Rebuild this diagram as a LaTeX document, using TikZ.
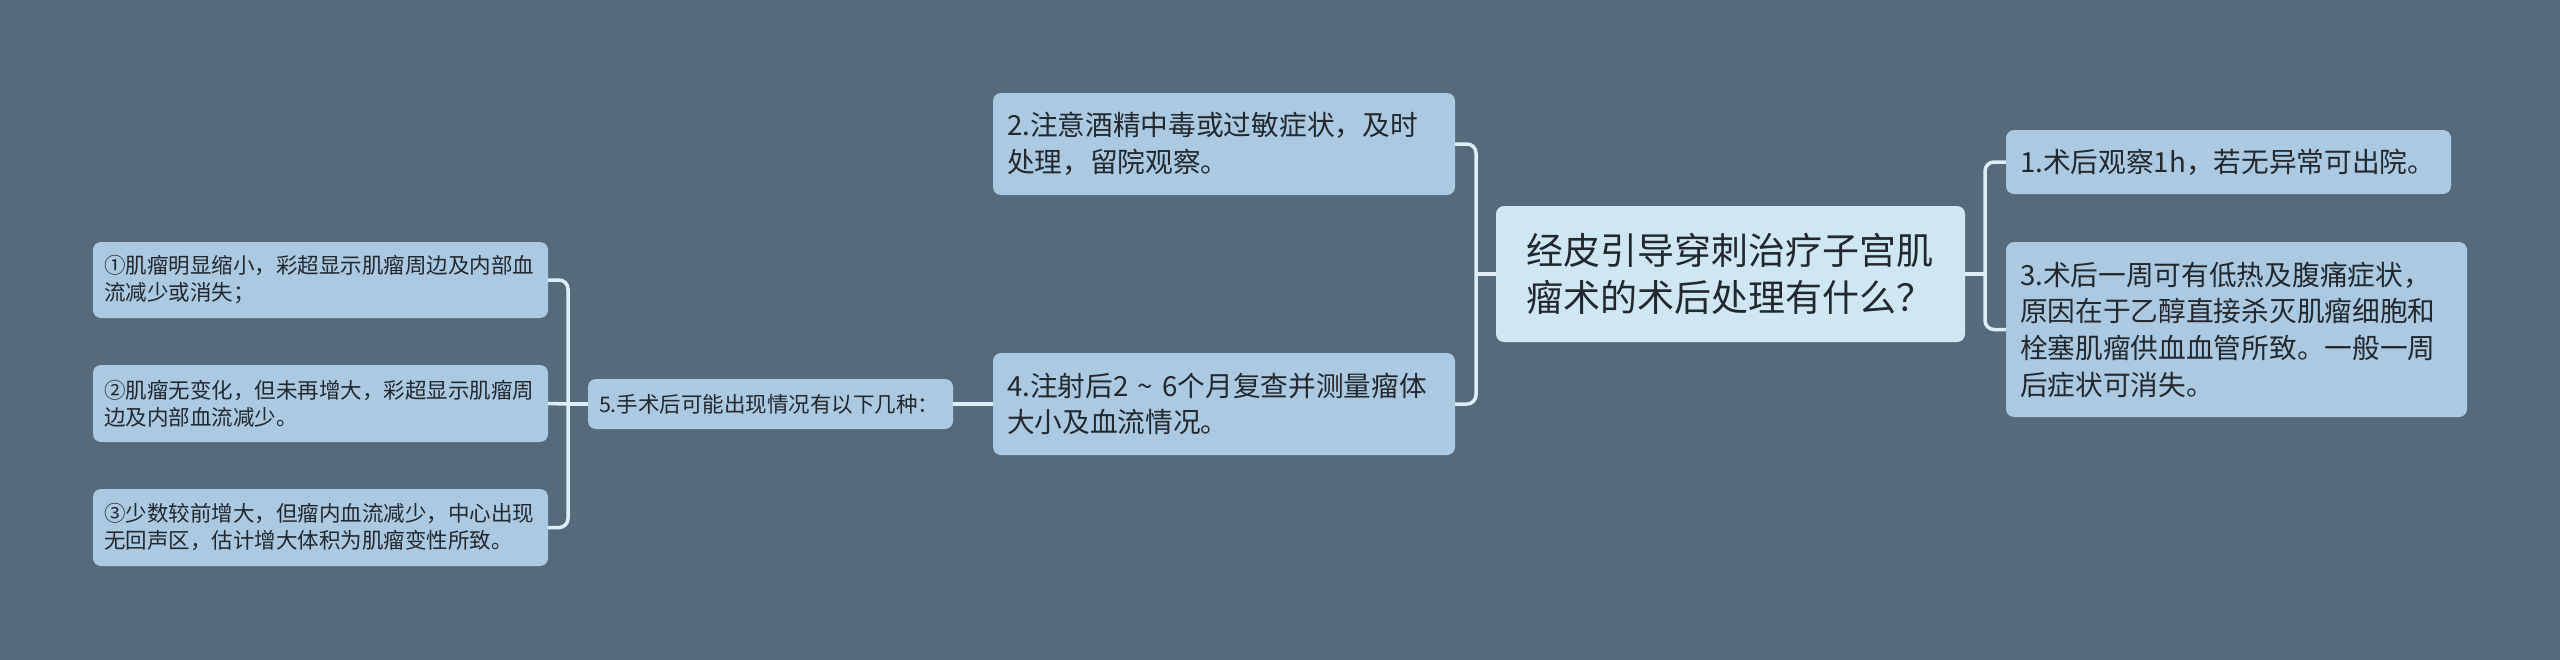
\documentclass[tikz,border=0pt]{standalone}
\usepackage{fontspec}
\setmainfont{Noto Sans CJK SC}
\usepackage{tikz}
\usetikzlibrary{positioning, calc}
\usepackage{xcolor}
\definecolor{bgslate}{RGB}{85, 107, 123}
\definecolor{topicblue}{RGB}{171, 201, 225}
\definecolor{rootblue}{RGB}{207, 230, 243}
\definecolor{linkwhite}{RGB}{222, 238, 248}
\definecolor{inkdark}{RGB}{34, 40, 46}

\begin{document}
\begin{tikzpicture}[
    x=1pt, y=-1pt,
    box/.style={rounded corners=8pt, align=left, text=inkdark,
                inner ysep=0pt, anchor=center},
    rootbox/.style={box, fill=rootblue, inner xsep=30pt,
                    font=\fontsize{37}{47}\selectfont},
    topic/.style={box, fill=topicblue, inner xsep=14pt,
                  font=\fontsize{27.7}{36.7}\selectfont},
    subtopic/.style={box, fill=topicblue, inner xsep=11pt,
                     font=\fontsize{21.5}{27}\selectfont},
    link/.style={draw=linkwhite, line width=3.5pt, rounded corners=9pt},
  ]
    % Background
    \useasboundingbox (0,0) rectangle (2560,659);
    \fill[bgslate] (-10,-10) rectangle (2570,669);

    % Root
    \node[rootbox, text width=409pt, minimum height=136pt] (root) at (1730.5,274)
      {经皮引导穿刺治疗子宫肌\\瘤术的术后处理有什么？};

    % Right side
    \node[topic, text width=417pt, minimum height=64pt] (obs) at (2228.5,162)
      {1.术后观察1h，若无异常可出院。};
    \node[topic, text width=433pt, minimum height=175pt] (fever) at (2236.5,329.5)
      {3.术后一周可有低热及腹痛症状，\\原因在于乙醇直接杀灭肌瘤细胞和\\栓塞肌瘤供血血管所致。一般一周\\后症状可消失。};

    % Left side
    \node[topic, text width=434pt, minimum height=102pt] (alcohol) at (1224,144)
      {2.注意酒精中毒或过敏症状，及时\\处理，留院观察。};
    \node[topic, text width=434pt, minimum height=102pt] (recheck) at (1224,404)
      {4.注射后2 \textasciitilde{} 6个月复查并测量瘤体\\大小及血流情况。};

    % Outcomes
    \node[subtopic, text width=343pt, minimum height=50pt] (cases) at (770.5,404)
      {5.手术后可能出现情况有以下几种：};
    \node[subtopic, text width=433pt, minimum height=76pt] (shrink) at (320.5,280)
      {①肌瘤明显缩小，彩超显示肌瘤周边及内部血\\流减少或消失；};
    \node[subtopic, text width=433pt, minimum height=77pt] (stable) at (320.5,403.5)
      {②肌瘤无变化，但未再增大，彩超显示肌瘤周\\边及内部血流减少。};
    \node[subtopic, text width=433pt, minimum height=77pt] (grow) at (320.5,527.5)
      {③少数较前增大，但瘤内血流减少，中心出现\\无回声区，估计增大体积为肌瘤变性所致。};

    % Spines
    \coordinate (rspine) at (1985,274);
    \coordinate (lspine) at (1476,274);
    \coordinate (cspine) at (568,404);

    % Links
    \draw[link] (root.east) -- (rspine);
    \draw[link] (obs.west) -| (rspine);
    \draw[link] (fever.west) -| (rspine);
    \draw[link] (root.west) -- (lspine);
    \draw[link] (alcohol.east) -| (lspine);
    \draw[link] (recheck.east) -| (lspine);
    \draw[link] (recheck.west) -- (cases.east);
    \draw[link] (cases.west) -- (cspine);
    \draw[link] (shrink.east) -| (cspine);
    \draw[link] (stable.east) -- (cspine);
    \draw[link] (grow.east) -| (cspine);
  \end{tikzpicture}
\end{document}
